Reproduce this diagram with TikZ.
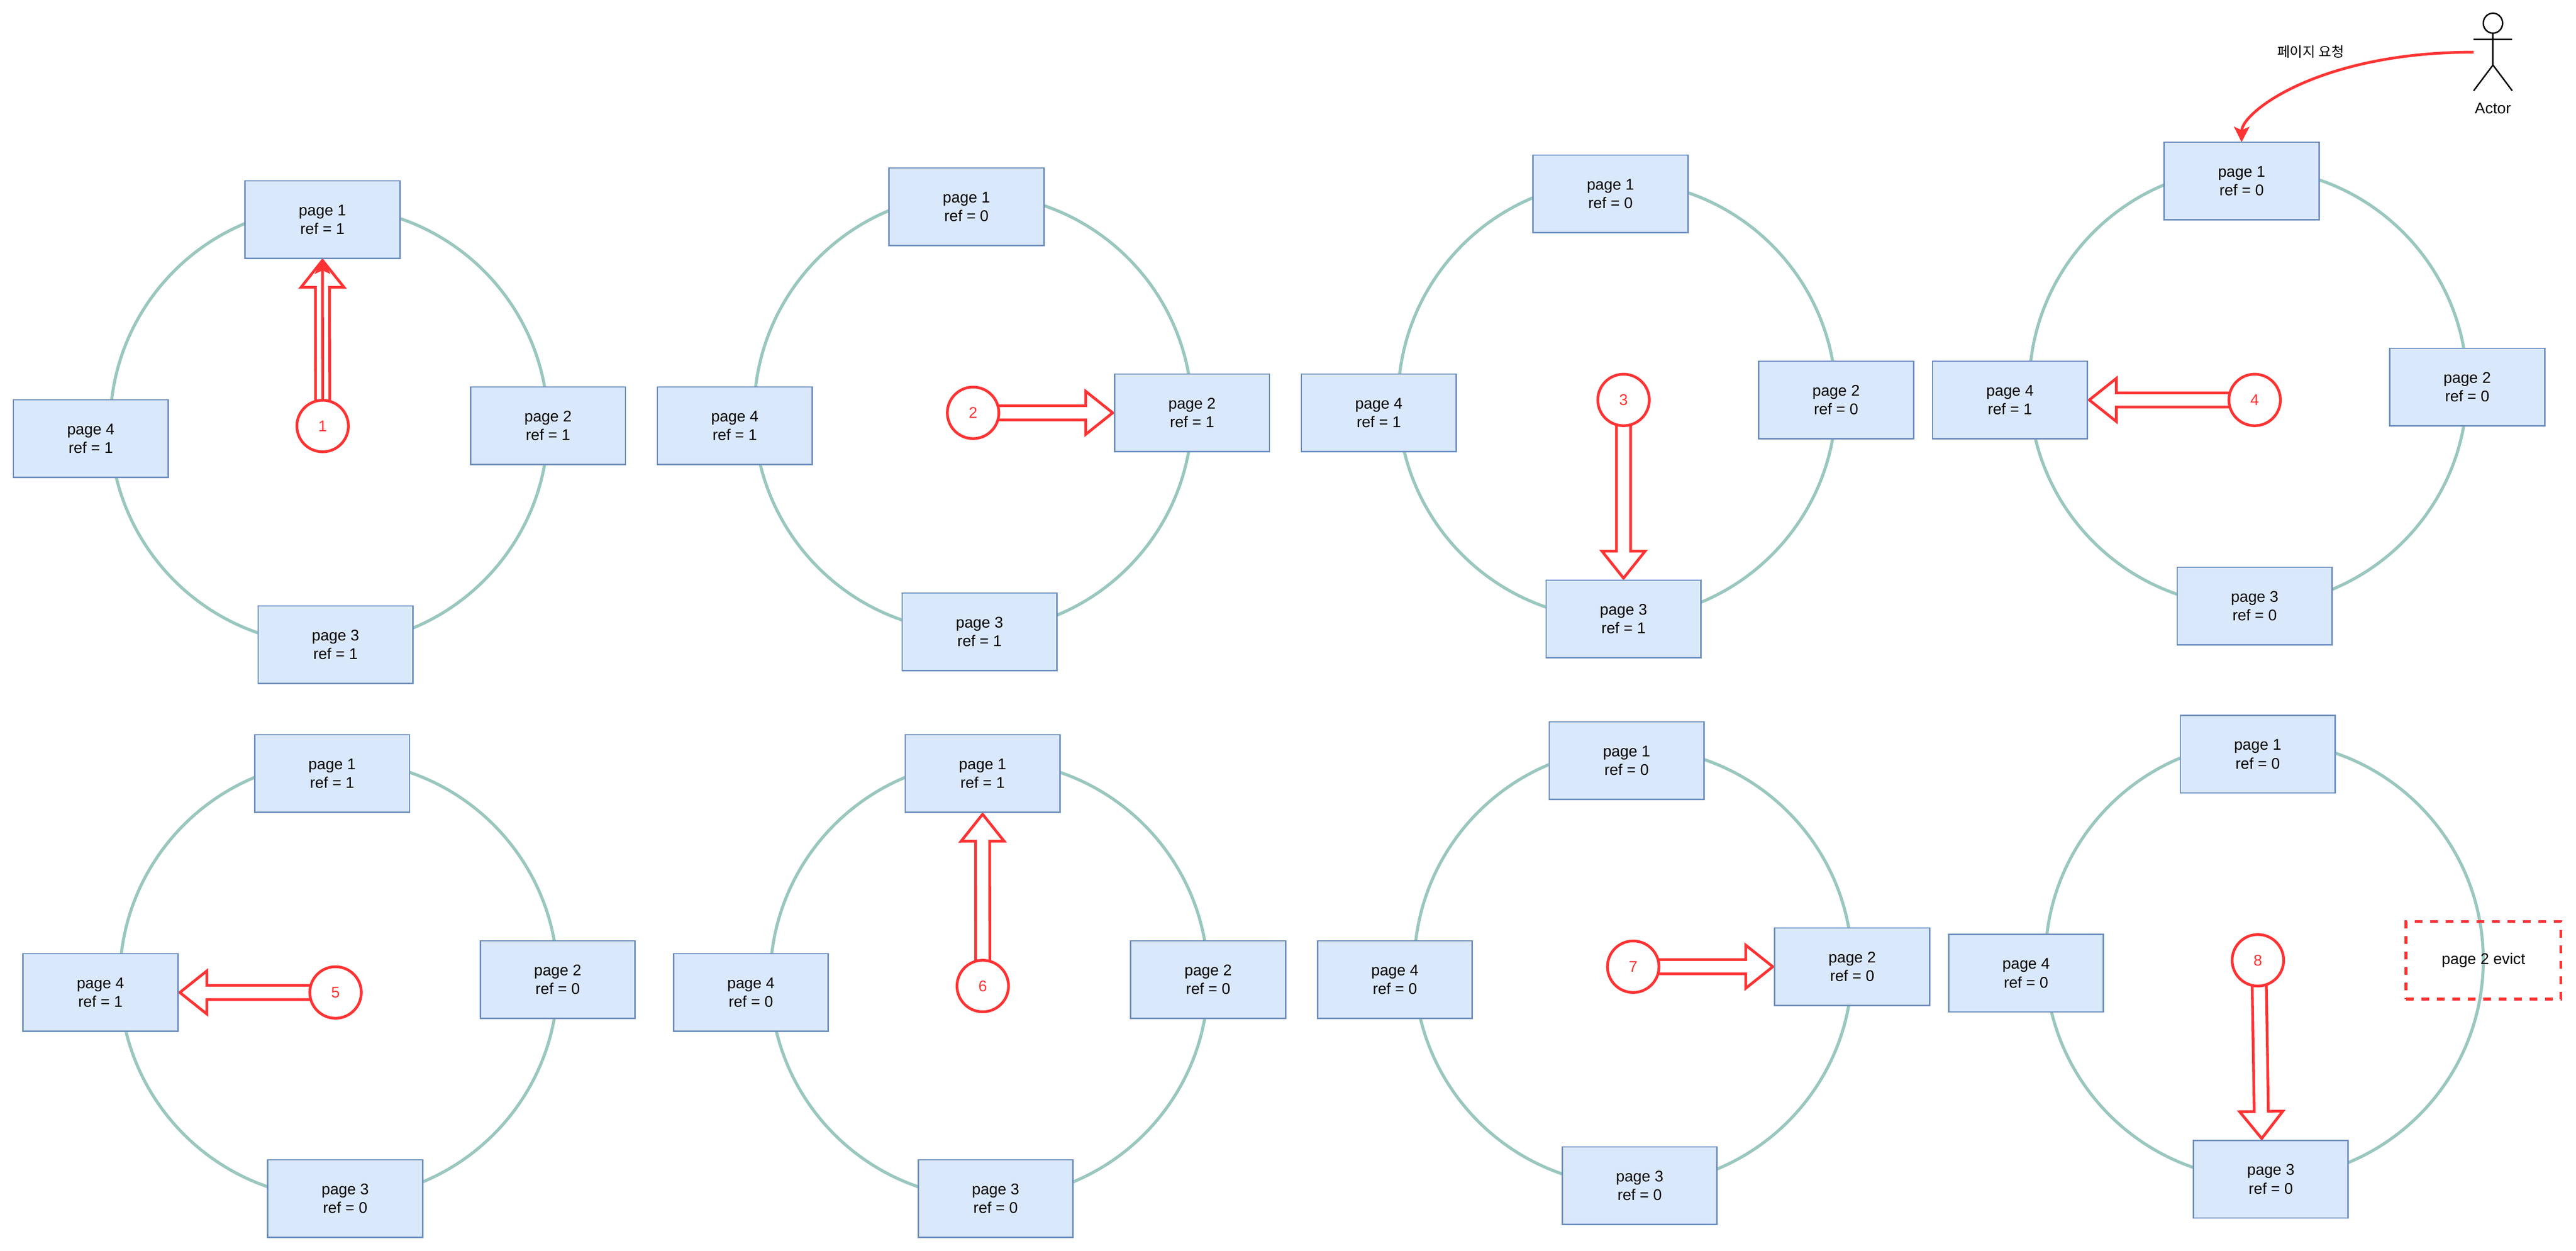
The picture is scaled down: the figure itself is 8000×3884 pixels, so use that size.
\documentclass[tikz,border=0pt]{standalone}
\usepackage{fontspec}
\setmainfont{Liberation Sans}
\newfontfamily\krfont{Noto Sans CJK KR}
\usetikzlibrary{calc,arrows.meta}
\definecolor{ringgreen}{HTML}{9AC7BF}
\definecolor{boxfill}{HTML}{DAE8FC}
\definecolor{boxline}{HTML}{6C8EBF}
\definecolor{flowred}{HTML}{FF3333}
\pgfdeclarelayer{rings}
\pgfdeclarelayer{flows}
\pgfsetlayers{rings,flows,main}
\tikzset{
  x=0.1pt,y=-0.1pt,
  basefont/.style={font=\fontsize{4.81pt}{5.8pt}\selectfont},
  pagebox/.style={basefont,draw=boxline,fill=boxfill,line width=0.45pt,minimum width=48.1pt,minimum height=24.1pt,inner sep=0pt,outer sep=0pt,align=center},
  evictbox/.style={basefont,draw=flowred,line width=0.85pt,dash pattern=on 2.4pt off 2.4pt,minimum width=48.1pt,minimum height=24.1pt,inner sep=0pt,outer sep=0pt,align=center},
  stepdot/.style={basefont,text=flowred,draw=flowred,fill=white,line width=0.85pt,circle,minimum size=16pt,inner sep=0pt,outer sep=0pt},
  plainlabel/.style={basefont,inner sep=0pt,outer sep=0pt,align=center},
  ringline/.style={draw=ringgreen,line width=0.95pt},
  flexline/.style={draw=flowred,fill=white,line width=0.85pt,miter limit=10},
  reqline/.style={draw=flowred,line width=0.85pt,-{Stealth[length=4.8pt,width=4.8pt,inset=1.1pt]}},
  actorline/.style={draw=black,line width=0.45pt},
}
\newcommand{\ringof}[2]{%
  \begin{pgfonlayer}{rings}
    \draw[ringline] (1022+#1,1322+#2) circle [radius=68pt];
  \end{pgfonlayer}}
\newcommand{\flexarrow}[2]{%
  \begin{pgfonlayer}{flows}
    \coordinate (fatip) at ($(#2)!0.6pt!(#1)$);
    \coordinate (fabase) at ($(fatip)!8.4pt!(#1)$);
    \draw[flexline]
      ($(#1)!2.2pt!90:(fatip)$) -- ($(fabase)!2.2pt!90:(fatip)$) --
      ($(fabase)!6.7pt!90:(fatip)$) -- (fatip) --
      ($(fabase)!6.7pt!-90:(fatip)$) -- ($(fabase)!2.2pt!-90:(fatip)$) --
      ($(#1)!2.2pt!-90:(fatip)$) -- cycle;
  \end{pgfonlayer}}
\begin{document}
\begin{tikzpicture}
\useasboundingbox (0,0) rectangle (8000,3884);
\begin{pgfonlayer}{rings}
  \fill[white] (0,0) rectangle (8000,3884);
\end{pgfonlayer}

% group 1
\ringof{0}{0}
\node[pagebox] (p11) at (1001.5,682) {page 1\\ref = 1};
\node[pagebox] (p12) at (1702,1322) {page 2\\ref = 1};
\node[pagebox] (p13) at (1042,2002) {page 3\\ref = 1};
\node[pagebox] (p14) at (282,1362) {page 4\\ref = 1};
\node[stepdot] (c1) at (1002,1323) {1};
% group 2
\ringof{2000}{-40}
\node[pagebox] (p21) at (3001.5,642) {page 1\\ref = 0};
\node[pagebox] (p22) at (3702,1282) {page 2\\ref = 1};
\node[pagebox] (p23) at (3042,1962) {page 3\\ref = 1};
\node[pagebox] (p24) at (2282,1322) {page 4\\ref = 1};
\node[stepdot] (c2) at (3022,1282) {2};
% group 3
\ringof{4000}{-80}
\node[pagebox] (p31) at (5001.5,602) {page 1\\ref = 0};
\node[pagebox] (p32) at (5702,1242) {page 2\\ref = 0};
\node[pagebox] (p33) at (5042,1922) {page 3\\ref = 1};
\node[pagebox] (p34) at (4282,1282) {page 4\\ref = 1};
\node[stepdot] (c3) at (5042,1242) {3};
% group 4
\ringof{5960}{-120}
\node[pagebox] (p41) at (6961.5,562) {page 1\\ref = 0};
\node[pagebox] (p42) at (7662,1202) {page 2\\ref = 0};
\node[pagebox] (p43) at (7002,1882) {page 3\\ref = 0};
\node[pagebox] (p44) at (6242,1242) {page 4\\ref = 1};
\node[stepdot] (c4) at (7002,1242) {4};
% group 5
\ringof{30}{1720}
\node[pagebox] (p51) at (1031.5,2402) {page 1\\ref = 1};
\node[pagebox] (p52) at (1732,3042) {page 2\\ref = 0};
\node[pagebox] (p53) at (1072,3722) {page 3\\ref = 0};
\node[pagebox] (p54) at (312,3082) {page 4\\ref = 1};
\node[stepdot] (c5) at (1042,3082) {5};
% group 6
\ringof{2050}{1720}
\node[pagebox] (p61) at (3051.5,2402) {page 1\\ref = 1};
\node[pagebox] (p62) at (3752,3042) {page 2\\ref = 0};
\node[pagebox] (p63) at (3092,3722) {page 3\\ref = 0};
\node[pagebox] (p64) at (2332,3082) {page 4\\ref = 0};
\node[stepdot] (c6) at (3052,3062) {6};
% group 7
\ringof{4050}{1680}
\node[pagebox] (p71) at (5051.5,2362) {page 1\\ref = 0};
\node[pagebox] (p72) at (5752,3002) {page 2\\ref = 0};
\node[pagebox] (p73) at (5092,3682) {page 3\\ref = 0};
\node[pagebox] (p74) at (4332,3042) {page 4\\ref = 0};
\node[stepdot] (c7) at (5072,3002) {7};
% group 8
\ringof{6010}{1660}
\node[pagebox] (p81) at (7011.5,2342) {page 1\\ref = 0};
\node[evictbox] (p82) at (7712.5,2982) {page 2 evict};
\node[pagebox] (p83) at (7052,3662) {page 3\\ref = 0};
\node[pagebox] (p84) at (6292,3022) {page 4\\ref = 0};
\node[stepdot] (c8) at (7012,2982) {8};

% step arrows
\flexarrow{c1.center}{p11.south}
\begin{pgfonlayer}{flows}
  \draw[reqline] (c1) -- (p11);
\end{pgfonlayer}
\flexarrow{c2.center}{p22.west}
\flexarrow{c3.center}{p33.north}
\flexarrow{c4.center}{p44.east}
\flexarrow{c5.center}{p54.east}
\flexarrow{c6.center}{p61.south}
\flexarrow{c7.center}{p72.west}
\coordinate (s8) at ($(c8.center)+(3,0)$);
\coordinate (e8) at ($(p83.north)+(-28,0)$);
\flexarrow{s8}{e8}

% actor
\draw[actorline] (7742,72) ellipse [x radius=3pt,y radius=3.1pt];
\draw[actorline] (7682,122) -- (7802,122);
\draw[actorline] (7742,103) -- (7742,202);
\draw[actorline] (7682,282) -- (7742,202) -- (7802,282);
\node[plainlabel] (actorlabel) at (7742,336) {Actor};
\node[plainlabel,font=\krfont\fontsize{4.3pt}{5.8pt}\selectfont] (reqlabel) at (7176,160) {페이지 요청};
\coordinate (actorhand) at (7682,162);
\begin{pgfonlayer}{flows}
  \draw[reqline] (actorhand) .. controls (7202,162) and (6962,348) .. (p41.north);
\end{pgfonlayer}
\end{tikzpicture}
\end{document}
